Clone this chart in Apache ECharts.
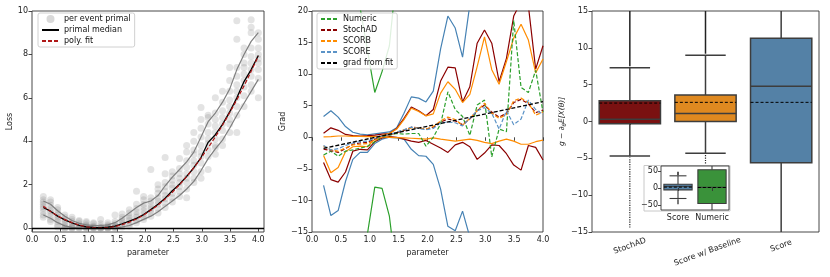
<!DOCTYPE html>
<html><head><meta charset="utf-8">
<script src="https://cdn.jsdelivr.net/npm/echarts@6/dist/echarts.min.js"></script>
<style>html,body{margin:0;padding:0;background:#fff}#c{width:830px;height:277px}</style>
</head><body><div id="c"></div>
<script>
// ---------------- DATA ----------------
const xs = [0.2, 0.327, 0.453, 0.58, 0.707, 0.833, 0.96, 1.087, 1.213, 1.34, 1.467, 1.593, 1.72, 1.847, 1.973, 2.1, 2.227, 2.353, 2.48, 2.607, 2.733, 2.86, 2.987, 3.113, 3.24, 3.367, 3.493, 3.62, 3.747, 3.873, 4.0];

// left panel: loss
const scatterCols = [
  [0.6, 0.75, 0.9, 1.0, 1.1, 1.2, 1.3, 1.45, 0.5],
  [0.4, 0.55, 0.7, 0.8, 0.9, 1.05, 1.2, 1.3, 0.3],
  [0.15, 0.3, 0.4, 0.5, 0.6, 0.7, 0.85, 0.95, 0.05],
  [0.0, 0.1, 0.2, 0.3, 0.4, 0.5, 0.6, 0.0],
  [0.0, 0.05, 0.1, 0.2, 0.3, 0.4, 0.5, 0.0],
  [0.0, 0.02, 0.08, 0.12, 0.2, 0.3, 0.35],
  [0.0, 0.01, 0.05, 0.1, 0.15, 0.25, 0.3],
  [0.0, 0.0, 0.02, 0.05, 0.1, 0.2, 0.25],
  [0.0, 0.0, 0.01, 0.03, 0.1, 0.2, 0.4],
  [0.0, 0.0, 0.02, 0.05, 0.1, 0.15, 0.25],
  [0.0, 0.03, 0.08, 0.12, 0.2, 0.3, 0.6],
  [0.05, 0.12, 0.2, 0.3, 0.4, 0.5, 0.65],
  [0.1, 0.2, 0.35, 0.45, 0.55, 0.7, 0.85],
  [0.25, 0.35, 0.5, 0.6, 0.75, 0.9, 1.1, 1.7],
  [0.4, 0.5, 0.65, 0.8, 0.95, 1.1, 1.3, 1.45],
  [0.55, 0.7, 0.85, 0.95, 1.1, 1.25, 1.4, 2.7],
  [0.7, 0.9, 1.1, 1.25, 1.4, 1.6, 1.8, 2.0],
  [0.95, 1.15, 1.35, 1.5, 1.7, 1.9, 2.1, 2.5, 3.25],
  [1.2, 1.4, 1.6, 1.85, 2.0, 2.2, 2.4, 2.6],
  [1.45, 1.7, 1.9, 2.1, 2.3, 2.5, 2.75, 3.2],
  [1.4, 1.8, 2.1, 2.3, 2.5, 2.8, 3.1, 3.5, 3.8],
  [2.1, 2.3, 2.6, 2.9, 3.1, 3.4, 3.6, 4.0, 4.4],
  [2.3, 2.6, 3.0, 3.3, 3.5, 3.8, 4.2, 4.6, 5.0, 5.55],
  [2.7, 3.3, 3.6, 3.9, 4.1, 4.4, 4.8, 5.1, 5.2],
  [3.4, 3.7, 3.8, 4.1, 4.4, 4.7, 5.0, 5.3, 6.0],
  [3.8, 4.1, 4.5, 4.8, 5.1, 5.4, 5.8, 6.3],
  [4.4, 4.8, 5.0, 5.3, 5.6, 5.9, 6.3, 6.8, 7.4],
  [4.4, 5.2, 5.6, 6.0, 6.3, 6.6, 7.0, 7.4, 8.7, 9.55],
  [5.6, 6.1, 6.5, 6.8, 7.1, 7.4, 7.6, 8.0, 8.3],
  [6.3, 6.6, 7.0, 7.3, 7.6, 7.9, 8.3, 9.0, 9.25, 9.6],
  [6.0, 6.9, 7.3, 7.6, 7.8, 8.0, 8.3, 8.7, 9.0]
];
const lossMedian = [0.95, 0.78, 0.55, 0.38, 0.24, 0.13, 0.06, 0.03, 0.02, 0.04, 0.09, 0.2, 0.32, 0.45, 0.62, 0.85, 1.1, 1.38, 1.72, 2.02, 2.38, 2.78, 3.25, 3.95, 4.3, 4.78, 5.35, 6.0, 6.75, 7.3, 7.95];
const lossUpper = [1.25, 1.1, 0.8, 0.55, 0.35, 0.22, 0.15, 0.12, 0.12, 0.15, 0.25, 0.45, 0.7, 0.95, 1.15, 1.25, 1.5, 1.95, 2.35, 2.7, 3.05, 3.5, 4.2, 4.9, 5.3, 5.8, 6.4, 7.3, 8.0, 8.6, 9.0];
const lossLower = [0.6, 0.45, 0.25, 0.1, 0.03, 0.0, 0.0, 0.0, 0.0, 0.0, 0.0, 0.05, 0.12, 0.25, 0.4, 0.55, 0.75, 1.0, 1.25, 1.5, 1.8, 2.15, 2.65, 3.2, 3.65, 4.05, 4.6, 5.2, 5.75, 6.3, 6.85];
const polyFit = [1.01, 0.77, 0.56, 0.39, 0.25, 0.14, 0.06, 0.01, 0.0, 0.02, 0.07, 0.16, 0.27, 0.42, 0.6, 0.82, 1.06, 1.34, 1.65, 2.0, 2.37, 2.78, 3.22, 3.7, 4.2, 4.74, 5.31, 5.91, 6.55, 7.22, 7.92];

// middle panel: gradients
const numMean = [-2.8, -2.2, -3.0, -2.2, -2.0, -1.7, -1.45, -0.7, 0.1, 0.3, 0.6, 0.5, 0.6, 0.6, -1.4, 0.0, 2.1, 7.2, 4.4, 3.3, 0.3, 5.1, 5.9, -3.1, 1.3, 0.9, 18.5, 7.9, 7.1, 10.6, 4.0];
const numHi = [38, 42, 40, 33, 27, 20.5, 13.8, 7.1, 10.4, 14.5, 26, 34, 40, 45, 42, 48, 52, 55, 50, 47, 52, 58, 55, 60, 57, 62, 70, 64, 61, 66, 60];
const numLo = [-38, -42, -40, -34, -28, -24, -15.3, -7.9, -8.1, -12.5, -22, -30, -38, -42, -40, -45, -50, -48, -52, -47, -55, -50, -58, -60, -54, -58, -62, -57, -62, -60, -56];
const stMean = [-1.9, -2.1, -2.4, -1.8, -1.1, -0.9, -0.8, -0.3, 0.2, 0.4, 0.7, 1.1, 1.6, 1.5, 1.3, 1.6, 2.4, 2.9, 2.6, 2.0, 2.9, 4.2, 5.1, 4.0, 3.2, 3.8, 5.5, 6.0, 5.3, 3.9, 4.3];
const stHi = [0.65, 1.5, 1.1, 0.45, 0.25, 0.2, 0.25, 0.35, 0.5, 0.6, 1.4, 3.0, 4.8, 4.2, 3.4, 4.4, 8.9, 11.1, 11.0, 5.6, 8.0, 14.9, 17.0, 14.9, 8.8, 12.5, 19.2, 21.5, 20.8, 10.8, 14.5];
const stLo = [-4.0, -6.7, -7.1, -5.5, -2.2, -1.9, -2.0, -0.7, -0.1, 0.1, 0.0, -0.3, -0.6, -0.8, -0.5, -1.1, -1.7, -2.4, -1.2, -0.8, -1.5, -3.5, -2.5, -1.2, -1.3, -2.6, -4.4, -5.2, -1.3, -1.6, -3.6];
const sbMean = [-1.4, -2.0, -2.2, -1.7, -1.2, -1.1, -1.0, -0.5, 0.1, 0.3, 0.8, 1.2, 1.5, 1.5, 1.3, 1.7, 2.6, 3.2, 2.8, 1.9, 3.0, 4.2, 5.4, 3.8, 3.0, 3.6, 5.8, 6.2, 5.5, 3.5, 4.0];
const sbHi = [-2.9, -5.6, -4.8, -2.3, -1.5, -1.4, -1.5, -0.3, 0.3, 0.6, 1.3, 2.8, 4.6, 4.1, 3.4, 3.7, 7.0, 8.8, 7.6, 5.5, 6.8, 11.2, 15.9, 10.7, 8.4, 12.0, 15.7, 17.9, 15.4, 10.2, 12.4];
const sbLo = [0.05, 0.1, 0.2, 0.2, 0.15, 0.15, 0.1, 0.1, 0.05, 0.0, -0.05, -0.1, -0.15, -0.2, -0.3, -0.1, -0.3, -0.45, -0.6, -0.45, -0.3, -0.5, -0.8, -1.0, -0.6, -0.3, -0.6, -1.1, -1.1, -0.7, -0.45];
const scMean = [-1.3, -2.0, -1.8, -1.3, -0.9, -0.7, -0.6, -0.2, 0.2, 0.4, 0.8, 1.2, 1.6, 1.4, 1.2, 1.4, 2.3, 2.4, 2.3, 1.8, 3.0, 4.2, 4.7, 3.8, 1.3, 4.2, 2.0, 2.9, 5.9, 4.4, 3.6];
const scHi = [3.3, 4.2, 3.2, 1.7, 0.8, 0.5, 0.4, 0.55, 0.7, 0.85, 1.5, 3.8, 6.4, 6.2, 5.6, 7.3, 14.0, 19.2, 17.3, 12.7, 21, 28, 28, 27, 30, 32, 30, 33, 28, 30, 27];
const scLo = [-7.6, -12.4, -11.6, -7.0, -3.5, -2.4, -2.4, -1.0, -0.3, 0.0, -0.1, -0.3, -1.9, -2.9, -3.0, -4.3, -8.2, -14.1, -14.8, -11.7, -15.8, -21, -24, -22, -26, -28, -25, -27, -24, -26, -23];
const fitX = [0.2, 4.0];
const fitY = [-1.75, 5.65];

// right panel: box plots
const boxCats = ['StochAD', 'Score w/ Baseline', 'Score'];
const boxLow = [-4.7, -4.3, -31];
const boxQ1 = [-0.3, 0.0, -5.6];
const boxMed = [0.3, 1.1, 4.8];
const boxQ3 = [2.8, 3.6, 11.3];
const boxHigh = [7.3, 9.0, 36];
const boxMean = [2.5, 2.6, 2.6];
const boxOutLow = [[-14.4, -4.9], [-5.7, -4.5], null];
const boxOutHigh = [[7.5, 40], [9.2, 40], null];

const insetCats = ['Score', 'Numeric'];
const insetLow = [-31, -80];
const insetQ1 = [-5.6, -46];
const insetMed = [4.8, 2];
const insetQ3 = [11.3, 54];
const insetHigh = [36, 80];
const insetMean = [2.6, 1.5];
const insetOutLow = [[-48, -33], null];
const insetOutHigh = [[38, 48], null];

// ---------------- STYLE ----------------
const FONT = 'DejaVu Sans';
const FS = 8;
const C_GREEN = '#2ca02c', C_RED = '#8b0000', C_ORANGE = '#ff8c00', C_BLUE = '#4682b4';
const minus = v => String(v).replace('-', '\u2212');

const scatterData = [];
scatterCols.forEach((col, i) => col.forEach(v => scatterData.push([xs[i], v])));
const pairs = arr => xs.map((x, i) => [x, arr[i]]);

function baseAxis(extra) {
  return Object.assign({
    axisLine: { show: false },
    axisTick: { show: true, length: 3.5, lineStyle: { color: '#333', width: 0.9 } },
    axisLabel: { color: '#222', fontSize: FS, fontFamily: FONT, margin: 4 },
    splitLine: { show: false },
    nameTextStyle: { color: '#222', fontSize: FS, fontFamily: FONT }
  }, extra);
}

function boxRender(cfg) {
  return function (params, api) {
    const i = params.dataIndex;
    const c = api.value(0);
    const bw = api.size([1, 0])[0] * cfg.width;
    const cw = bw * cfg.cap;
    const P = v => api.coord([c, v]);
    const xc = P(0)[0];
    const y = k => P(api.value(k))[1];
    const ylo = y(1), yq1 = y(2), ymed = y(3), yq3 = y(4), yhi = y(5), ymean = y(6);
    const ec = cfg.edge, lw = cfg.lw;
    const ch = [];
    const oL = cfg.outLow[i], oH = cfg.outHigh[i];
    if (oL) ch.push({ type: 'line', shape: { x1: xc, y1: P(oL[0])[1], x2: xc, y2: P(oL[1])[1] }, style: { stroke: '#222', lineWidth: cfg.olw, lineDash: cfg.odash } });
    if (oH) ch.push({ type: 'line', shape: { x1: xc, y1: P(oH[0])[1], x2: xc, y2: P(oH[1])[1] }, style: { stroke: '#222', lineWidth: cfg.olw + 0.3 } });
    ch.push({ type: 'line', shape: { x1: xc, y1: yq1, x2: xc, y2: ylo }, style: { stroke: ec, lineWidth: lw } });
    ch.push({ type: 'line', shape: { x1: xc, y1: yq3, x2: xc, y2: yhi }, style: { stroke: ec, lineWidth: lw } });
    ch.push({ type: 'line', shape: { x1: xc - cw / 2, y1: ylo, x2: xc + cw / 2, y2: ylo }, style: { stroke: ec, lineWidth: lw } });
    ch.push({ type: 'line', shape: { x1: xc - cw / 2, y1: yhi, x2: xc + cw / 2, y2: yhi }, style: { stroke: ec, lineWidth: lw } });
    ch.push({ type: 'rect', shape: { x: xc - bw / 2, y: yq3, width: bw, height: yq1 - yq3 }, style: { fill: cfg.colors[i], stroke: ec, lineWidth: lw } });
    ch.push({ type: 'line', shape: { x1: xc - bw / 2, y1: ymed, x2: xc + bw / 2, y2: ymed }, style: { stroke: ec, lineWidth: lw } });
    ch.push({ type: 'line', shape: { x1: xc - bw / 2, y1: ymean, x2: xc + bw / 2, y2: ymean }, style: { stroke: '#000', lineWidth: 1, lineDash: [3, 2] } });
    return { type: 'group', children: ch };
  };
}

const boxRows = boxCats.map((c, i) => [i, boxLow[i], boxQ1[i], boxMed[i], boxQ3[i], boxHigh[i], boxMean[i]]);
const insetRows = insetCats.map((c, i) => [i, insetLow[i], insetQ1[i], insetMed[i], insetQ3[i], insetHigh[i], insetMean[i]]);

const grids = [
  { left: 32, top: 11, width: 232, height: 221 },
  { left: 312, top: 11, width: 231, height: 221 },
  { left: 592, top: 11, width: 227, height: 221 },
  { left: 661, top: 166, width: 68, height: 44, z: 10 }
].map(g => Object.assign({ show: true, borderColor: '#333', borderWidth: 0.9, backgroundColor: 'transparent', containLabel: false }, g));

const lineS = (name, data, color, width, dash, z, opacity) => ({
  type: 'line', name, xAxisIndex: 1, yAxisIndex: 1, data: pairs(data), symbol: 'none', showSymbol: false,
  lineStyle: { color, width, type: dash ? [4, 2] : 'solid', opacity: opacity == null ? 1 : opacity },
  itemStyle: { color }, z: z || 2, clip: true, animation: false
});

const legendBase = {
  orient: 'vertical', itemWidth: 17, itemHeight: 8, itemGap: 3, padding: [2, 4, 2, 3],
  textStyle: { fontSize: FS, fontFamily: FONT, color: '#111' },
  itemStyle: { opacity: 0 },
  backgroundColor: 'rgba(255,255,255,0.85)', borderColor: '#d0d0d0', borderWidth: 1, borderRadius: 2
};

const option = {
  animation: false,
  textStyle: { fontFamily: FONT },
  grid: grids,
  graphic: [
    { type: 'rect', z: 5, shape: { x: 644, y: 165.5, width: 86, height: 45.5 }, style: { fill: '#fff', stroke: '#c8c8c8', lineWidth: 1 } }
  ],
  legend: [
    Object.assign({}, legendBase, {
      data: [{ name: 'per event primal', icon: 'circle', itemStyle: { opacity: 1, color: 'rgba(128,128,128,0.3)' } }, 'primal median', 'poly. fit'],
      left: 38, top: 13
    }),
    Object.assign({}, legendBase, {
      data: ['Numeric', 'StochAD', 'SCORB', 'SCORE', 'grad from fit'], left: 317, top: 13
    })
  ],
  xAxis: [
    baseAxis({ gridIndex: 0, type: 'value', min: 0, max: 4.1, name: 'parameter', nameLocation: 'middle', nameGap: 15,
      axisTick: { show: true, length: 3.5, lineStyle: { color: '#333', width: 0.9 }, customValues: [0, 0.5, 1, 1.5, 2, 2.5, 3, 3.5, 4] },
      axisLabel: { color: '#222', fontSize: FS, fontFamily: FONT, margin: 4, customValues: [0, 0.5, 1, 1.5, 2, 2.5, 3, 3.5, 4], formatter: v => v.toFixed(1) } }),
    baseAxis({ gridIndex: 1, type: 'value', min: 0, max: 4, interval: 0.5, name: 'parameter', nameLocation: 'middle', nameGap: 15,
      axisLabel: { color: '#222', fontSize: FS, fontFamily: FONT, margin: 4, formatter: v => v.toFixed(1) } }),
    baseAxis({ gridIndex: 2, type: 'category', data: boxCats, boundaryGap: true,
      axisTick: { show: true, alignWithLabel: true, length: 3.5, lineStyle: { color: '#333', width: 0.9 } },
      axisLabel: { color: '#222', fontSize: FS, fontFamily: FONT, rotate: 20, align: 'center', verticalAlign: 'middle', margin: 14, interval: 0,
        formatter: v => v === 'Score w/ Baseline' ? '{b|' + v + '}' : '{a|' + v + '}',
        rich: { a: { fontSize: FS, fontFamily: FONT, color: '#222' }, b: { fontSize: FS, fontFamily: FONT, color: '#222', padding: [12, 0, 0, 0] } } } }),
    baseAxis({ gridIndex: 3, type: 'category', data: insetCats, boundaryGap: true, z: 10,
      axisTick: { show: true, alignWithLabel: true, length: 3, lineStyle: { color: '#333', width: 0.9 } },
      axisLabel: { color: '#222', fontSize: FS, fontFamily: FONT, margin: 4, interval: 0, hideOverlap: false } })
  ],
  yAxis: [
    baseAxis({ gridIndex: 0, type: 'value', min: -0.18, max: 10, name: 'Loss', nameLocation: 'middle', nameGap: 16, nameRotate: 90,
      axisTick: { show: true, length: 3.5, lineStyle: { color: '#333', width: 0.9 }, customValues: [0, 2, 4, 6, 8, 10] },
      axisLabel: { color: '#222', fontSize: FS, fontFamily: FONT, margin: 4, customValues: [0, 2, 4, 6, 8, 10] } }),
    baseAxis({ gridIndex: 1, type: 'value', min: -15, max: 20, interval: 5, name: 'Grad', nameLocation: 'middle', nameGap: 20, nameRotate: 90,
      axisLabel: { color: '#222', fontSize: FS, fontFamily: FONT, margin: 4, formatter: minus } }),
    baseAxis({ gridIndex: 2, type: 'value', min: -15, max: 15, interval: 5, name: '{a|g \u2212 \u2202}{b|\u03b8}{a|E[X(\u03b8)]}', nameLocation: 'middle', nameGap: 20, nameRotate: 90,
      nameTextStyle: { rich: { a: { fontSize: 7.5, fontStyle: 'italic', fontFamily: FONT, color: '#222' }, b: { fontSize: 5.5, fontStyle: 'italic', fontFamily: FONT, color: '#222', padding: [4, 0, 0, 0] } } },
      axisLabel: { color: '#222', fontSize: FS, fontFamily: FONT, margin: 4, formatter: minus } }),
    baseAxis({ gridIndex: 3, type: 'value', min: -65, max: 65, z: 10,
      axisTick: { show: true, length: 3, lineStyle: { color: '#333', width: 0.9 }, customValues: [-50, 0, 50] },
      axisLabel: { color: '#222', fontSize: FS, fontFamily: FONT, margin: 3, customValues: [-50, 0, 50], formatter: minus } })
  ],
  series: [
    { type: 'scatter', name: 'per event primal', xAxisIndex: 0, yAxisIndex: 0, data: scatterData, symbolSize: 7,
      itemStyle: { color: 'rgba(128,128,128,0.28)' }, z: 1 },
    { type: 'line', name: 'q_hi', xAxisIndex: 0, yAxisIndex: 0, data: pairs(lossUpper), symbol: 'none', lineStyle: { color: '#7f7f7f', width: 1.2 }, z: 2 },
    { type: 'line', name: 'q_lo', xAxisIndex: 0, yAxisIndex: 0, data: pairs(lossLower), symbol: 'none', lineStyle: { color: '#7f7f7f', width: 1.2 }, z: 2 },
    { type: 'line', name: 'primal median', xAxisIndex: 0, yAxisIndex: 0, data: pairs(lossMedian), symbol: 'none',
      lineStyle: { color: '#000', width: 1.3 }, itemStyle: { color: '#000' }, z: 3,
      markLine: { silent: true, symbol: 'none', label: { show: false }, lineStyle: { color: '#000', width: 1.3, type: 'solid' }, data: [{ yAxis: 0 }] } },
    { type: 'line', name: 'poly. fit', xAxisIndex: 0, yAxisIndex: 0, data: pairs(polyFit), symbol: 'none',
      lineStyle: { color: '#b01818', width: 1.2, type: [4, 2] }, itemStyle: { color: '#b01818' }, z: 4 },

    lineS('num_hi', numHi, C_GREEN, 1.2, false, 2),
    lineS('num_lo', numLo, C_GREEN, 1.2, false, 2),
    lineS('sc_hi', scHi, C_BLUE, 1.2, false, 2),
    lineS('sc_lo', scLo, C_BLUE, 1.2, false, 2),
    lineS('st_hi', stHi, C_RED, 1.2, false, 3),
    lineS('st_lo', stLo, C_RED, 1.2, false, 3),
    lineS('sb_hi', sbHi, C_ORANGE, 1.2, false, 3),
    lineS('sb_lo', sbLo, C_ORANGE, 1.2, false, 3),
    lineS('Numeric', numMean, C_GREEN, 1.2, true, 4),
    lineS('StochAD', stMean, C_RED, 1.2, true, 4),
    lineS('SCORB', sbMean, C_ORANGE, 1.2, true, 4),
    lineS('SCORE', scMean, '#5b93c7', 1.2, true, 4),
    { type: 'line', name: 'grad from fit', xAxisIndex: 1, yAxisIndex: 1, data: fitX.map((x, i) => [x, fitY[i]]), symbol: 'none',
      lineStyle: { color: '#000', width: 1.3, type: [4, 2] }, itemStyle: { color: '#000' }, z: 5 },

    { type: 'custom', name: 'boxes', xAxisIndex: 2, yAxisIndex: 2, data: boxRows, clip: true, z: 2,
      encode: { x: 0, y: [1, 2, 3, 4, 5, 6] },
      renderItem: boxRender({ width: 0.81, cap: 0.66, edge: '#3d3d3d', lw: 1.5, colors: ['#7a1111', '#df8920', '#5481a6'],
        outLow: boxOutLow, outHigh: boxOutHigh, olw: 1.2, odash: [1.2, 1.2] }) },
    { type: 'custom', name: 'inset', xAxisIndex: 3, yAxisIndex: 3, data: insetRows, clip: true, z: 10,
      encode: { x: 0, y: [1, 2, 3, 4, 5, 6] },
      renderItem: boxRender({ width: 0.83, cap: 0.6, edge: '#3d3d3d', lw: 1.1, colors: ['#5481a6', '#3a923a'],
        outLow: insetOutLow, outHigh: insetOutHigh, olw: 1.2, odash: null }) }
  ]
};

const chart = echarts.init(document.getElementById('c'), null, { renderer: 'canvas' });
chart.setOption(option);
</script>
</body></html>
